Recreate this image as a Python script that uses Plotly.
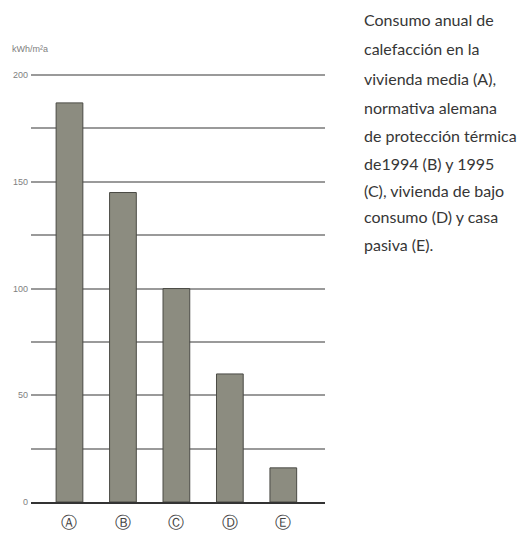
import plotly.graph_objects as go

categories = ["A", "B", "C", "D", "E"]
category_labels = ["Ⓐ", "Ⓑ", "Ⓒ", "Ⓓ", "Ⓔ"]
consumo = [187, 145, 100, 60, 16]
y_tick_values = [0, 25, 50, 75, 100, 125, 150, 175, 200]
y_tick_labels = ["0", "", "50", "", "100", "", "150", "", "200"]
unit_label = "kWh/m²a"
caption_lines = [
    "Consumo anual de",
    "calefacción en la",
    "vivienda media (A),",
    "normativa alemana",
    "de protección térmica",
    "de1994 (B) y 1995",
    "(C), vivienda de bajo",
    "consumo (D) y casa",
    "pasiva (E).",
]
caption_y_px = [19, 49, 79, 107, 135, 163, 190, 217, 244]

W, H = 526, 549
ML, MR, MT, MB = 31, 201, 73, 47
PW, PH = W - ML - MR, H - MT - MB


def px_x(x):
    return (x - ML) / PW


def px_y(y):
    return (H - MB - y) / PH


fig = go.Figure()
fig.add_trace(go.Bar(
    x=list(range(len(categories))),
    y=consumo,
    width=0.5,
    marker=dict(color="#8c8c80", line=dict(color="#4a4a44", width=1)),
    hoverinfo="y",
))

fig.update_layout(
    width=W, height=H,
    margin=dict(l=ML, r=MR, t=MT, b=MB),
    paper_bgcolor="white", plot_bgcolor="white",
    showlegend=False,
    font=dict(family="Lato", color="#333"),
)
fig.update_xaxes(
    range=[-0.72, 4.78],
    tickvals=list(range(len(categories))),
    ticktext=category_labels,
    tickfont=dict(family="DejaVu Sans", size=16, color="#444"),
    ticks="", showgrid=False, zeroline=False,
    showline=True, linecolor="#333", linewidth=2,
    ticklabelstandoff=5,
)
fig.update_yaxes(
    range=[0, 201],
    tickvals=y_tick_values,
    ticktext=y_tick_labels,
    tickfont=dict(family="Liberation Sans Narrow, Liberation Sans", size=9, color="#808080"),
    ticks="", showgrid=True, gridcolor="#9a9a9a", gridwidth=1.5,
    zeroline=False, showline=False,
    ticklabelstandoff=2,
)

fig.add_annotation(
    text=unit_label, xref="paper", yref="paper",
    x=px_x(10), y=px_y(49),
    xanchor="left", yanchor="middle", showarrow=False,
    font=dict(family="Liberation Sans", size=9, color="#808080"),
)

for line, ypx in zip(caption_lines, caption_y_px):
    fig.add_annotation(
        text=line, xref="paper", yref="paper",
        x=px_x(362), y=px_y(ypx),
        xanchor="left", yanchor="middle", showarrow=False,
        font=dict(family="Lato", size=16, color="#363636"),
    )

fig.write_html("out.html")
